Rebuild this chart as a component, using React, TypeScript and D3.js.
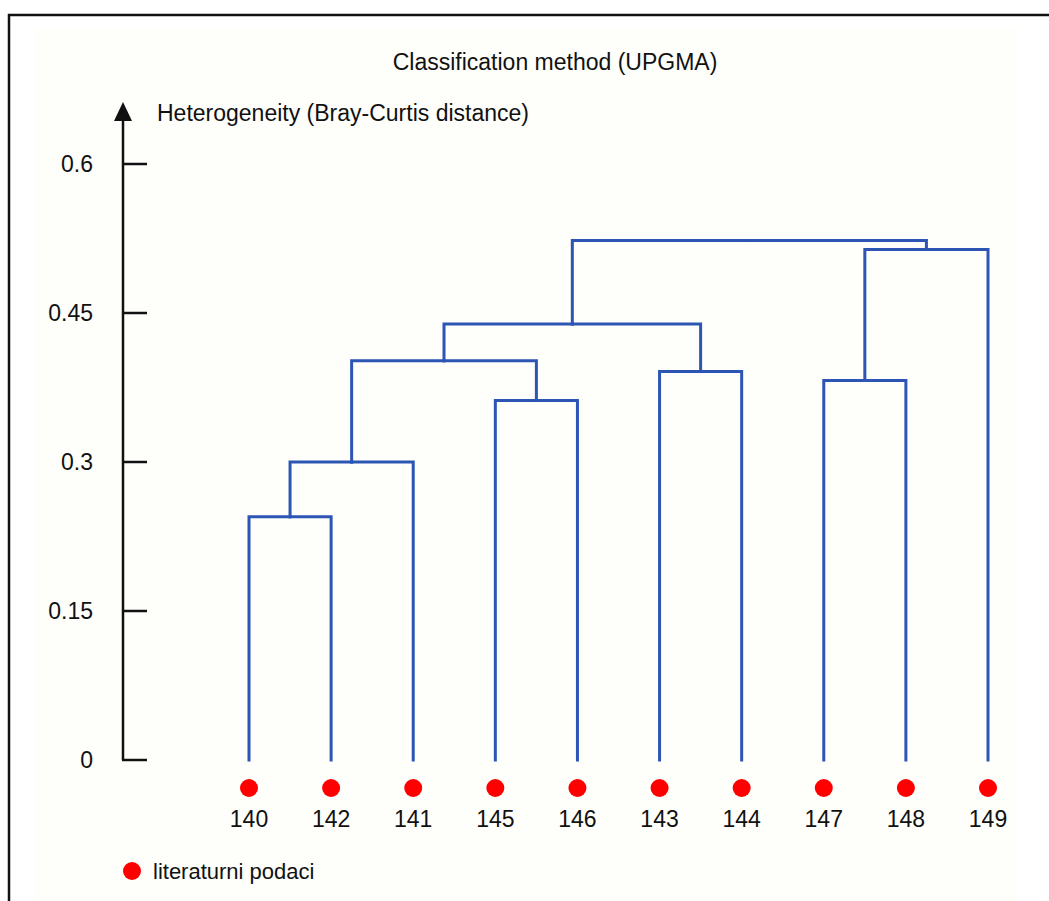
import { useMemo } from "react";
import * as d3 from "d3";

// leaf order along the x axis
const leafOrder = ["140", "142", "141", "145", "146", "143", "144", "147", "148", "149"];
const yTicks = [0, 0.15, 0.3, 0.45, 0.6];

type Node = { name?: string; height: number; children?: Node[] };

// UPGMA merge heights
const tree: Node = {
  height: 0.523,
  children: [
    {
      height: 0.439,
      children: [
        {
          height: 0.402,
          children: [
            {
              height: 0.3,
              children: [
                {
                  height: 0.245,
                  children: [
                    { name: "140", height: 0 },
                    { name: "142", height: 0 },
                  ],
                },
                { name: "141", height: 0 },
              ],
            },
            {
              height: 0.362,
              children: [
                { name: "145", height: 0 },
                { name: "146", height: 0 },
              ],
            },
          ],
        },
        {
          height: 0.391,
          children: [
            { name: "143", height: 0 },
            { name: "144", height: 0 },
          ],
        },
      ],
    },
    {
      height: 0.514,
      children: [
        {
          height: 0.382,
          children: [
            { name: "147", height: 0 },
            { name: "148", height: 0 },
          ],
        },
        { name: "149", height: 0 },
      ],
    },
  ],
};

const W = 1049;
const H = 901;
const BLUE = "#2c55b4";
const FONT = "'Liberation Sans', Arial, sans-serif";
const FS = 23;

export default function App() {
  const x = d3.scalePoint<string>().domain(leafOrder).range([249, 988]);
  const y = d3.scaleLinear().domain([0, 0.6]).range([760, 164]);

  const links = useMemo(() => {
    const root = d3.hierarchy<Node>(tree);
    const pos = new Map<d3.HierarchyNode<Node>, number>();
    root.eachAfter((n) => {
      if (!n.children) pos.set(n, x(n.data.name!) ?? 0);
      else pos.set(n, d3.mean(n.children, (c) => pos.get(c)!) ?? 0);
    });
    const paths: string[] = [];
    root.each((n) => {
      if (!n.children) return;
      const h = y(n.data.height);
      n.children.forEach((c) => {
        const cx = pos.get(c)!;
        const p = d3.path();
        p.moveTo(pos.get(n)!, h);
        p.lineTo(cx, h);
        p.lineTo(cx, y(c.data.height));
        paths.push(p.toString());
      });
    });
    return paths;
  }, []);

  return (
    <div style={{ position: "absolute", left: 0, top: 0 }}>
      <svg width={W} height={H} style={{ display: "block" }}>
        <rect x={0} y={0} width={W} height={H} fill="#fff" />
        <rect x={35} y={28} width={981} height={873} fill="#fefefb" />
        <path d={`M9,${H + 5}V15H${W + 5}`} fill="none" stroke="#111" strokeWidth={2.5} />

        <text x={555} y={70} textAnchor="middle" fontFamily={FONT} fontSize={FS} fill="#111">
          Classification method (UPGMA)
        </text>

        {/* y axis */}
        <line x1={123} x2={123} y1={y(0)} y2={116} stroke="#111" strokeWidth={2.5} />
        <path d="M123,102L114,121L132,121Z" fill="#111" />
        <text x={157} y={121} fontFamily={FONT} fontSize={FS} fill="#111">
          Heterogeneity (Bray-Curtis distance)
        </text>
        {yTicks.map((t) => (
          <g key={t}>
            <line x1={122} x2={147} y1={y(t)} y2={y(t)} stroke="#111" strokeWidth={2.5} />
            <text
              x={93}
              y={y(t)}
              dy="0.35em"
              textAnchor="end"
              fontFamily={FONT}
              fontSize={FS}
              fill="#111"
            >
              {String(t)}
            </text>
          </g>
        ))}

        {/* dendrogram */}
        {links.map((d, i) => (
          <path key={i} d={d} fill="none" stroke={BLUE} strokeWidth={3} strokeLinecap="square" />
        ))}

        {leafOrder.map((l) => (
          <g key={l}>
            <circle cx={x(l)} cy={788} r={9} fill="#ff0000" />
            <text x={x(l)} y={827} textAnchor="middle" fontFamily={FONT} fontSize={FS} fill="#111">
              {l}
            </text>
          </g>
        ))}

        {/* legend */}
        <circle cx={132} cy={871} r={9} fill="#ff0000" />
        <text x={153} y={879} fontFamily={FONT} fontSize={22} fill="#111">
          literaturni podaci
        </text>
      </svg>
    </div>
  );
}
